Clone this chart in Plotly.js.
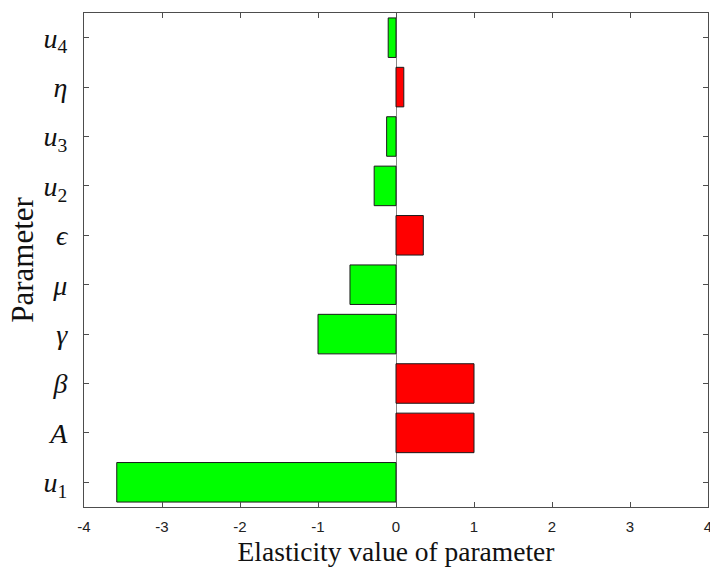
<!DOCTYPE html>
<html>
<head>
<meta charset="utf-8">
<script src="https://cdn.plot.ly/plotly-3.0.1.min.js"></script>
<style>html,body{margin:0;padding:0;background:#fff;overflow:hidden;}#chart{width:710px;height:570px;}</style>
</head>
<body>
<div id="chart"></div>
<script>
const parameters = ['u1', 'A', 'beta', 'gamma', 'mu', 'epsilon', 'u2', 'u3', 'eta', 'u4'];
const tickLabels = ['<i>u</i><sub>1</sub>', '<i>A</i>', '<i>β</i>', '<i>γ</i>', '<i>μ</i>', '<i>ϵ</i>', '<i>u</i><sub>2</sub>', '<i>u</i><sub>3</sub>', '<i>η</i>', '<i>u</i><sub>4</sub>'];
const elasticity = [-3.58, 1.0, 1.0, -1.0, -0.59, 0.35, -0.28, -0.12, 0.1, -0.1];
const xTicks = [-4, -3, -2, -1, 0, 1, 2, 3, 4];

const barColors = elasticity.map(v => v >= 0 ? '#ff0000' : '#00ff00');

const trace = {
  type: 'bar',
  orientation: 'h',
  y: parameters,
  x: elasticity,
  width: 0.8,
  marker: { color: barColors, line: { color: '#1a1a1a', width: 1 } },
  hoverinfo: 'x+y'
};

const serif = "'Liberation Serif', 'Times New Roman', 'DejaVu Serif', serif";
const axisColor = '#4d4d4d';
const layout = {
  width: 710, height: 570,
  margin: { l: 84, r: 2, t: 13, b: 63 },
  paper_bgcolor: '#fff', plot_bgcolor: '#fff',
  showlegend: false,
  xaxis: {
    range: [-4, 4],
    automargin: false,
    tickvals: xTicks,
    ticktext: xTicks.map(String),
    ticks: 'inside', ticklen: 5, tickcolor: axisColor,
    ticklabeloverflow: 'allow',
    ticklabelstandoff: 6,
    showline: true, linecolor: axisColor, linewidth: 1, mirror: 'ticks',
    showgrid: false,
    zeroline: true, zerolinecolor: '#888', zerolinewidth: 1,
    tickfont: { family: "'Liberation Sans', Arial, sans-serif", size: 15, color: '#222' },
    title: { text: 'Elasticity value of parameter', font: { family: serif, size: 27.5, color: '#111' }, standoff: 7 },
    fixedrange: true
  },
  yaxis: {
    type: 'category',
    automargin: false,
    categoryorder: 'array', categoryarray: parameters,
    range: [-0.5, 9.5],
    tickvals: parameters,
    ticktext: tickLabels,
    ticks: 'inside', ticklen: 5, tickcolor: axisColor,
    showline: true, linecolor: axisColor, linewidth: 1, mirror: 'ticks',
    showgrid: false,
    ticklabelstandoff: 10,
    tickfont: { family: serif, size: 28, color: '#111' },
    title: { text: 'Parameter', font: { family: serif, size: 31, color: '#111' }, standoff: 0 },
    fixedrange: true
  },
  bargap: 0.2
};

Plotly.newPlot('chart', [trace], layout, { displayModeBar: false, staticPlot: true });
</script>
</body>
</html>
